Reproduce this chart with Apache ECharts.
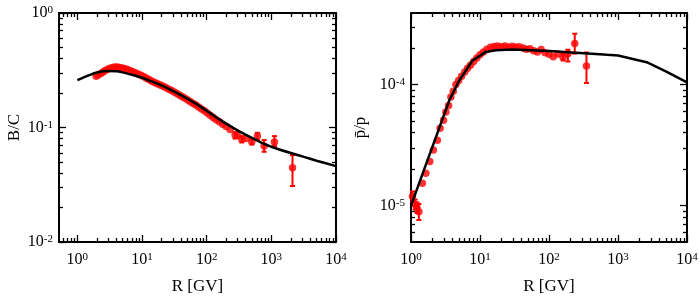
<!DOCTYPE html>
<html><head><meta charset="utf-8">
<script src="https://cdn.jsdelivr.net/npm/echarts@6/dist/echarts.min.js"></script>
<style>html,body{margin:0;padding:0;background:#fff}#c{width:700px;height:297px}</style>
</head><body><div id="c"></div>
<script>
// ---------- data (left panel: B/C) ----------
const bcCurveR = [1, 1.5, 2, 3, 4, 5, 7, 10, 15, 20, 30, 50, 70, 100, 150, 200, 300, 500, 700, 1000, 2000, 3000, 5000, 10000];
const bcCurveV = [0.259, 0.285, 0.302, 0.311, 0.310, 0.303, 0.288, 0.272, 0.249, 0.233, 0.209, 0.179, 0.160, 0.140, 0.120, 0.108, 0.0945, 0.0810, 0.0738, 0.0679, 0.0598, 0.056, 0.0513, 0.046];
const bcR = [1.95, 2.1, 2.3, 2.5, 2.7, 2.95, 3.2, 3.5, 3.8, 4.15, 4.5, 4.9, 5.3, 5.8, 6.3, 6.9, 7.5, 8.2, 9.0, 9.8, 10.7, 11.7, 12.8, 14.0, 15.3, 16.7, 18.3, 20, 22, 24, 26.5, 29, 32, 35, 38.5, 42, 46, 51, 56, 62, 68, 75, 83, 92, 102, 113, 126, 140, 157, 177, 200, 230, 275, 300, 349, 410, 499, 609, 773, 1117, 2125];
const bcV = [0.280, 0.287, 0.296, 0.306, 0.315, 0.323, 0.330, 0.335, 0.338, 0.337, 0.335, 0.331, 0.327, 0.322, 0.316, 0.310, 0.304, 0.297, 0.290, 0.284, 0.277, 0.269, 0.262, 0.255, 0.249, 0.243, 0.237, 0.233, 0.227, 0.221, 0.215, 0.209, 0.203, 0.197, 0.191, 0.186, 0.180, 0.174, 0.168, 0.162, 0.157, 0.151, 0.145, 0.140, 0.134, 0.128, 0.122, 0.117, 0.112, 0.107, 0.102, 0.096, 0.0859, 0.085, 0.0788, 0.080, 0.075, 0.0841, 0.0689, 0.0746, 0.0445];
const bcBarR = [275, 349, 499, 609, 773, 1117, 2125];
const bcBarLo = [0.080, 0.074, 0.071, 0.0777, 0.0614, 0.0689, 0.0308];
const bcBarHi = [0.091, 0.084, 0.079, 0.0899, 0.0777, 0.0841, 0.0574];

// ---------- data (right panel: pbar/p) ----------
const ppCurveR = [1, 3.6, 5.0, 7.8, 12.2, 17, 30, 100, 700, 1000, 2600, 5100, 10000];
const ppCurveV = [1.0e-5, 7.43e-5, 1.08e-4, 1.58e-4, 1.86e-4, 1.92e-4, 1.95e-4, 1.89e-4, 1.76e-4, 1.74e-4, 1.53e-4, 1.27e-4, 1.04e-4];
const ppR = [1.05, 1.15, 1.22, 1.3, 1.46, 1.64, 1.87, 2.11, 2.41, 2.64, 2.96, 3.2, 3.5, 3.78, 4.1, 4.47, 4.9, 5.4, 6.0, 6.6, 7.3, 8.1, 9.0, 10.0, 11.2, 12.6, 14.2, 16, 18, 20.5, 23, 26, 29.5, 33, 37, 42, 47, 53, 60, 68, 77, 88, 100, 115, 135, 160, 188, 236, 349];
const ppV = [1.19e-5, 1.02e-5, 9.6e-6, 8.9e-6, 1.53e-5, 1.85e-5, 2.31e-5, 2.88e-5, 3.47e-5, 4.35e-5, 5.08e-5, 5.94e-5, 6.7e-5, 7.9e-5, 8.8e-5, 1.0e-4, 1.08e-4, 1.17e-4, 1.27e-4, 1.36e-4, 1.45e-4, 1.55e-4, 1.66e-4, 1.76e-4, 1.86e-4, 1.96e-4, 2.03e-4, 2.06e-4, 2.08e-4, 2.05e-4, 2.08e-4, 2.04e-4, 2.07e-4, 2.03e-4, 2.05e-4, 2.00e-4, 1.96e-4, 1.98e-4, 1.90e-4, 1.86e-4, 1.95e-4, 1.83e-4, 1.78e-4, 1.70e-4, 1.79e-4, 1.68e-4, 1.80e-4, 2.18e-4, 1.42e-4];
const ppBarR = [1.05, 1.15, 1.22, 1.3, 160, 188, 236, 349];
const ppBarLo = [1.08e-5, 9.3e-6, 8.7e-6, 7.6e-6, 1.58e-4, 1.55e-4, 1.80e-4, 1.03e-4];
const ppBarHi = [1.31e-5, 1.12e-5, 1.06e-5, 1.03e-5, 1.80e-4, 1.94e-4, 2.63e-4, 1.84e-4];

// ---------- axis decades (tick labels 10^n) ----------
const leftXDecades = [0, 1, 2, 3, 4];
const leftYDecades = [-2, -1, 0];
const rightXDecades = [0, 1, 2, 3, 4];
const rightYDecades = [-5, -4];

const L = Math.log10;
const FONT = 'Liberation Serif';

function minorTicks(lo, hi) {
  const out = [];
  for (let n = Math.floor(lo) - 1; n <= Math.ceil(hi); n++) {
    for (let k = 2; k <= 9; k++) {
      const v = n + L(k);
      if (v > lo + 1e-6 && v < hi - 1e-6) out.push(v);
    }
  }
  return out;
}
const labelRich = {
  b: { fontFamily: FONT, fontSize: 16, color: '#000', lineHeight: 16, padding: [2, 0, 0, 0], verticalAlign: 'bottom' },
  s: { fontFamily: FONT, fontSize: 11, color: '#000', lineHeight: 11, verticalAlign: 'top' }
};
function fmt(v) { return '{b|10}{s|' + Math.round(v) + '}'; }

function axesFor(dim, grid, min, max, majors, name, nameGap, labelMargin) {
  const pos = dim === 'x' ? ['bottom', 'top'] : ['left', 'right'];
  const minors = minorTicks(min, max);
  const res = [];
  pos.forEach((p, i) => {
    [majors, minors].forEach((vals, j) => {
      const main = (i === 0 && j === 0);
      res.push({
        type: 'value', gridIndex: grid, position: p, min: min, max: max,
        axisLine: { show: j === 0, onZero: false, lineStyle: { color: '#000', width: 2 } },
        axisTick: { show: true, inside: true, length: j === 0 ? 7 : 4, customValues: vals,
                    lineStyle: { color: '#000', width: 1.3 } },
        axisLabel: { show: main, customValues: majors, margin: labelMargin, formatter: fmt, rich: labelRich },
        splitLine: { show: false },
        name: main ? name : '',
        nameLocation: 'middle', nameGap: nameGap,
        nameTextStyle: { fontFamily: FONT, fontSize: 17, color: '#000' }
      });
    });
  });
  return res;
}

const xAxes = [].concat(
  axesFor('x', 0, L(0.52), 4, leftXDecades, 'R [GV]', 36, 10),
  axesFor('x', 1, 0, 4, rightXDecades, 'R [GV]', 36, 10)
);
const yAxes = [].concat(
  axesFor('y', 0, -2, 0, leftYDecades, 'B/C', 36, 6),
  axesFor('y', 1, L(5.0e-6), L(3.9e-4), rightYDecades, 'p\u0304/p', 42, 6)
);

function pts(rs, vs) { return rs.map((r, i) => [L(r), L(vs[i])]); }
function bars(rs, lo, hi) { return rs.map((r, i) => [L(r), L(lo[i]), L(hi[i])]); }

function errRender(params, api) {
  const x = api.value(0);
  const a = api.coord([x, api.value(1)]);
  const b = api.coord([x, api.value(2)]);
  const w = 2.5;
  const st = { stroke: '#ff0000', lineWidth: 2 };
  return { type: 'group', children: [
    { type: 'line', shape: { x1: a[0], y1: a[1], x2: b[0], y2: b[1] }, style: st },
    { type: 'line', shape: { x1: a[0] - w, y1: a[1], x2: a[0] + w, y2: a[1] }, style: st },
    { type: 'line', shape: { x1: b[0] - w, y1: b[1], x2: b[0] + w, y2: b[1] }, style: st }
  ]};
}

function panelSeries(xi, yi, barData, ptData, curveData, smooth) {
  return [
    { type: 'custom', xAxisIndex: xi, yAxisIndex: yi, renderItem: errRender, data: barData, z: 2, silent: true },
    { type: 'scatter', xAxisIndex: xi, yAxisIndex: yi, data: ptData, symbol: 'circle', symbolSize: 7.5,
      itemStyle: { color: '#ff0000' }, z: 3, silent: true },
    { type: 'line', xAxisIndex: xi, yAxisIndex: yi, data: curveData, showSymbol: false, smooth: smooth,
      lineStyle: { color: '#000', width: 2.5 }, z: 4, silent: true }
  ];
}

const chart = echarts.init(document.getElementById('c'), null, { renderer: 'canvas' });
chart.setOption({
  animation: false,
  backgroundColor: '#fff',
  grid: [
    { left: 59, top: 13, width: 277, height: 229, containLabel: false, outerBoundsMode: 'none' },
    { left: 411, top: 13, width: 276, height: 229, containLabel: false, outerBoundsMode: 'none' }
  ],
  xAxis: xAxes,
  yAxis: yAxes,
  series: [].concat(
    panelSeries(0, 0, bars(bcBarR, bcBarLo, bcBarHi), pts(bcR, bcV), pts(bcCurveR, bcCurveV), 0.3),
    panelSeries(4, 4, bars(ppBarR, ppBarLo, ppBarHi), pts(ppR, ppV), pts(ppCurveR, ppCurveV), false)
  )
});
</script>
</body></html>
